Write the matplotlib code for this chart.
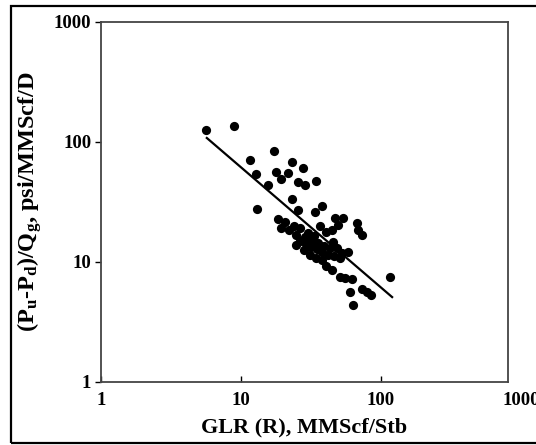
import matplotlib
matplotlib.use("Agg")
import matplotlib.pyplot as plt
from matplotlib.patches import Rectangle
import matplotlib.transforms as mtransforms

plt.rcParams['font.family'] = ['Liberation Serif', 'DejaVu Serif']
plt.rcParams['font.weight'] = 'bold'
plt.rcParams['mathtext.fontset'] = 'custom'
plt.rcParams['mathtext.rm'] = 'Liberation Serif:bold'
plt.rcParams['mathtext.it'] = 'Liberation Serif:bold'
plt.rcParams['mathtext.bf'] = 'Liberation Serif:bold'

# Data
glr = [5.6, 8.9, 11.6, 12.8, 15.6, 13.0, 17.2, 23.1, 27.7, 17.8, 21.7, 19.3,
       25.5, 28.7, 34.3, 23.1, 37.9, 25.5, 33.8, 46.9, 53.5, 49.3, 67.4, 68.5,
       73.1, 44.7, 18.4, 20.6, 19.3, 22.0, 24.7, 26.4, 29.1, 31.6, 34.9, 37.9,
       41.8, 28.7, 32.1, 35.5, 39.2, 23.9, 31.1, 34.3, 37.9, 40.5, 45.4, 48.5,
       52.6, 58.1, 50.9, 44.7, 50.9, 55.3, 62.1, 60.1, 73.1, 79.4, 84.8, 63.1,
       116, 36.7, 40.5, 26.4, 30.1, 33.2, 43.2, 46.2, 28.2, 24.7]
dp_q = [126, 136, 70.8, 54.1, 43.8, 27.7, 84.1, 68.1, 60.7, 56.2, 55.2, 49.2,
        46.4, 43.8, 47.3, 33.5, 29.3, 27.1, 26.1, 23.3, 23.3, 20.3, 21.1, 18.5,
        16.8, 18.5, 22.8, 21.5, 19.2, 18.5, 16.8, 15.0, 14.1, 13.3, 12.8, 12.1,
        11.4, 16.2, 15.3, 14.4, 13.6, 20.0, 11.4, 10.8, 10.4, 9.26, 14.7, 13.1,
        11.9, 12.1, 10.8, 8.58, 7.50, 7.36, 7.22, 5.62, 5.96, 5.62, 5.31, 4.38,
        7.50, 20.0, 17.8, 19.2, 17.4, 16.5, 13.1, 11.2, 12.6, 13.9]
fit_x = [5.7, 120]
fit_y = [108, 5.1]
tick_vals = [1, 10, 100, 1000]
tick_labels = ['1', '10', '100', '1000']

fig = plt.figure(figsize=(5.36, 4.45), dpi=100)
ax = fig.add_axes([0.1884, 0.1416, 0.7594, 0.809])

ax.scatter(glr, dp_q, s=44, color='black', zorder=3, linewidths=0)
ax.plot(fit_x, fit_y, color='black', lw=1.6, zorder=2)

ax.set_xscale('log')
ax.set_yscale('log')
ax.set_xlim(1, 807)
ax.set_ylim(1, 1000)

ax.set_xticks(tick_vals[:3])
ax.set_xticklabels(tick_labels[:3])
ax.set_yticks(tick_vals)
ax.set_yticklabels(tick_labels)
ax.minorticks_off()
ax.tick_params(axis='x', direction='in', length=4, width=1, pad=7, labelsize=13.5)
ax.tick_params(axis='y', direction='out', length=4, width=1, pad=3, labelsize=13.5)
# last x tick label lies beyond the frame (clipped by the picture edge, as in the reference)
trans = mtransforms.blended_transform_factory(ax.transData, ax.transAxes)
ax.text(tick_vals[3], -0.028, tick_labels[3], transform=trans, ha='center', va='top',
        fontsize=13.5, fontweight='bold', clip_on=False)

for sp in ax.spines.values():
    sp.set_color('#444444')
    sp.set_linewidth(1.3)

ax.set_xlabel('GLR (R), MMScf/Stb', fontsize=16, fontweight='bold', labelpad=6)
ax.set_ylabel(r'(P$_{u}$-P$_{d}$)/Q$_{g}$, psi/MMScf/D', fontsize=17.5, fontweight='bold', labelpad=7)

fig.patches.append(Rectangle((0.0205, 0.0045), 1.1, 0.982, transform=fig.transFigure,
                             fill=False, edgecolor='black', lw=1.6))

fig.savefig('out.png', dpi=100)
